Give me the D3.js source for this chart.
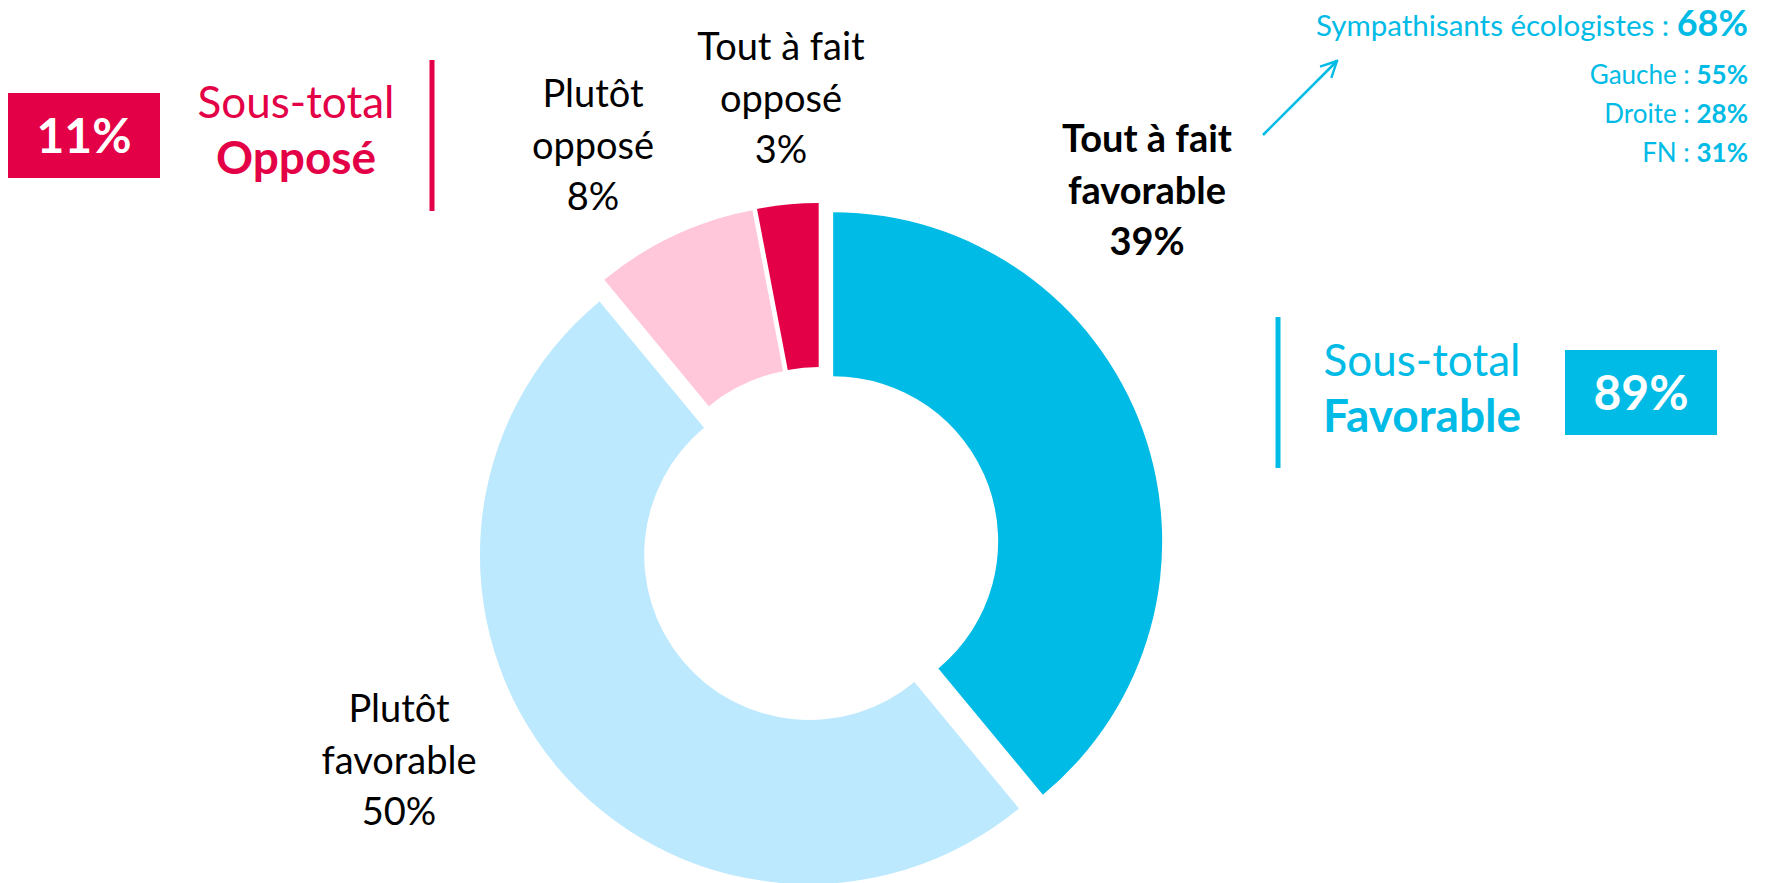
<!DOCTYPE html>
<html>
<head>
<meta charset="utf-8">
<script src="https://cdn.jsdelivr.net/npm/d3@7"></script>
<style>
  body { margin: 0; background: #fff; }
  text { font-family: Lato, "Open Sans", sans-serif; }
</style>
</head>
<body>
<script>
// data
var categories = ["Tout à fait favorable", "Plutôt favorable", "Plutôt opposé", "Tout à fait opposé"];
var values = [39, 50, 8, 3];
var subtotalNames = ["Favorable", "Opposé"];
var subtotalValues = [89, 11];
var groupNames = ["Sympathisants écologistes", "Gauche", "Droite", "FN"];
var groupValues = [68, 55, 28, 31];

var width = 1771, height = 883;
var cx = 820, cy = 546, outerR = 329, innerR = 165, explode = 14;

var colors = ["#00BBE5", "#BDE9FE", "#FFC7D9", "#E40046"];
var blue = "#00BBE5", red = "#E40046";

var svg = d3.select("body").append("svg")
    .attr("width", width)
    .attr("height", height);

var pie = d3.pie().sort(null).value(function(d){ return d; });
var arc = d3.arc().innerRadius(innerR).outerRadius(outerR);

var g = svg.append("g").attr("transform", "translate(" + cx + "," + cy + ")");

g.selectAll("path")
    .data(pie(values))
    .enter()
    .append("path")
        .attr("d", arc)
        .attr("fill", function(d, i){ return colors[i]; })
        .attr("transform", function(d){
            var a = (d.startAngle + d.endAngle) / 2;
            return "translate(" + (Math.sin(a) * explode) + "," + (-Math.cos(a) * explode) + ")";
        });

// slice labels (placed by hand like the original)
var labelPos = [
    {x: 1147, y: 152, bold: true},
    {x: 399, y: 722, bold: false},
    {x: 593, y: 107, bold: false},
    {x: 781, y: 60, bold: false}
];
var labelSize = 38, lineGap = 51.5;

categories.forEach(function(c, i){
    var cut = c.lastIndexOf(" ");
    var lines = [c.slice(0, cut), c.slice(cut + 1), values[i] + "%"];
    var t = svg.append("text")
        .attr("text-anchor", "middle")
        .attr("font-size", labelSize)
        .attr("font-weight", labelPos[i].bold ? 700 : 400)
        .attr("fill", "#000");
    lines.forEach(function(l, k){
        t.append("tspan")
            .attr("x", labelPos[i].x)
            .attr("y", labelPos[i].y + k * lineGap)
            .text(l);
    });
});

// sub-total blocks
function subtotal(opt){
    svg.append("rect")
        .attr("x", opt.barX - 2.5).attr("y", opt.barY)
        .attr("width", 5).attr("height", 151)
        .attr("fill", opt.color);
    svg.append("text")
        .attr("x", opt.textX).attr("y", opt.textY)
        .attr("text-anchor", "middle")
        .attr("font-size", 44)
        .attr("fill", opt.color)
        .text("Sous-total");
    svg.append("text")
        .attr("x", opt.textX).attr("y", opt.textY + 56)
        .attr("text-anchor", "middle")
        .attr("font-size", 46)
        .attr("font-weight", 700)
        .attr("fill", opt.color)
        .text(opt.name);
    svg.append("rect")
        .attr("x", opt.boxX).attr("y", opt.boxY)
        .attr("width", 152).attr("height", 85)
        .attr("fill", opt.color);
    svg.append("text")
        .attr("x", opt.boxX + 76).attr("y", opt.boxY + 60)
        .attr("text-anchor", "middle")
        .attr("font-size", 48)
        .attr("font-weight", 700)
        .attr("fill", "#fff")
        .text(opt.value + "%");
}

subtotal({name: subtotalNames[1], value: subtotalValues[1], color: red,
    barX: 432, barY: 60, textX: 296, textY: 118, boxX: 8, boxY: 93});
subtotal({name: subtotalNames[0], value: subtotalValues[0], color: blue,
    barX: 1278, barY: 317, textX: 1422, textY: 376, boxX: 1565, boxY: 350});

// political groups, right aligned
var groupRight = 1748;
var groupY = [36, 84, 123, 162];
groupNames.forEach(function(n, i){
    var t = svg.append("text")
        .attr("x", groupRight).attr("y", groupY[i])
        .attr("text-anchor", "end")
        .attr("fill", blue)
        .attr("font-size", i === 0 ? 29.5 : 26);
    t.append("tspan").text(n + " : ");
    t.append("tspan")
        .attr("font-weight", 700)
        .attr("font-size", i === 0 ? 36 : 26)
        .text(groupValues[i] + "%");
});

// arrow
svg.append("defs").append("marker")
    .attr("id", "head")
    .attr("viewBox", "0 0 10 10")
    .attr("refX", 9).attr("refY", 5)
    .attr("markerWidth", 8).attr("markerHeight", 8)
    .attr("markerUnits", "strokeWidth")
    .attr("orient", "auto")
    .append("path")
        .attr("d", "M1,1 L9,5 L1,9")
        .attr("fill", "none")
        .attr("stroke", blue)
        .attr("stroke-width", 1.2);

svg.append("line")
    .attr("x1", 1263).attr("y1", 135)
    .attr("x2", 1337).attr("y2", 61)
    .attr("stroke", blue)
    .attr("stroke-width", 2.5)
    .attr("marker-end", "url(#head)");
</script>
</body>
</html>
